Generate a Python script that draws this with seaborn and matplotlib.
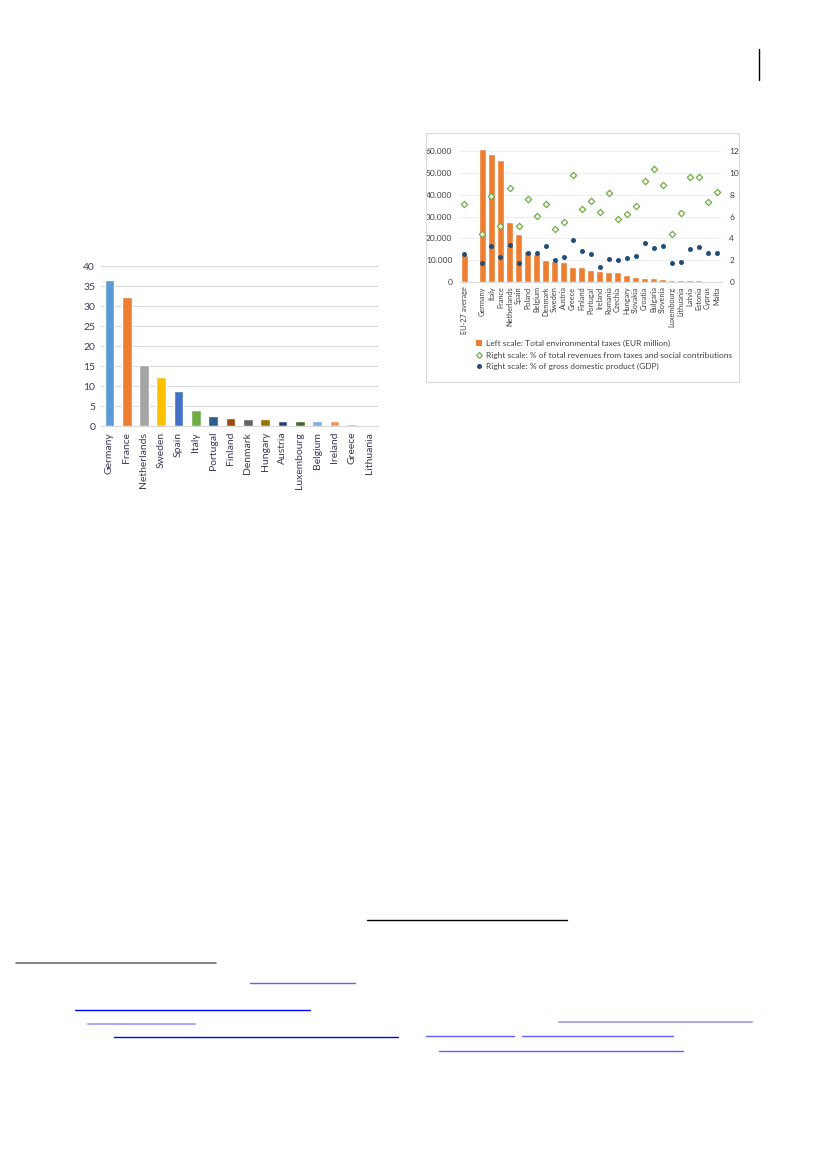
import numpy as np
import pandas as pd
import seaborn as sns
import matplotlib.pyplot as plt
from matplotlib.patches import Rectangle, Patch
from matplotlib.lines import Line2D

# left chart data
left_countries = ['Germany', 'France', 'Netherlands', 'Sweden', 'Spain', 'Italy', 'Portugal',
                  'Finland', 'Denmark', 'Hungary', 'Austria', 'Luxembourg', 'Belgium',
                  'Ireland', 'Greece', 'Lithuania']
left_values = [36.4, 32.2, 15.2, 12.3, 8.8, 4.0, 2.5, 2.0, 1.8, 1.8, 1.3, 1.25, 1.3, 1.2, 0.6, 0.15]
left_colors = ['#5B9BD5', '#ED7D31', '#A5A5A5', '#FFC000', '#4472C4', '#70AD47', '#255E91',
               '#9E480E', '#636363', '#997300', '#264478', '#43682B', '#7CAFDD', '#F1975A',
               '#B7B7B7', '#FFCD33']

# right chart data
right_order = ['EU-27 average', ' ', 'Germany', 'Italy', 'France', 'Netherlands', 'Spain', 'Poland',
               'Belgium', 'Denmark', 'Sweden', 'Austria', 'Greece', 'Finland', 'Portugal',
               'Ireland', 'Romania', 'Czechia', 'Hungary', 'Slovakia', 'Croatia', 'Bulgaria',
               'Slovenia', 'Luxembourg', 'Lithuania', 'Latvia', 'Estonia', 'Cyprus', 'Malta']
right_countries = [c for c in right_order if c.strip()]
env_taxes = [12500, 61000, 58500, 56000, 27600, 22200, 14100, 12900, 10200, 9900, 9100, 7100,
             6800, 5500, 5200, 4700, 4600, 3300, 2400, 2000, 2000, 1700, 1100, 1000, 900, 900,
             600, 400]
pct_revenues = [7.17, 4.44, 7.83, 5.13, 8.64, 5.16, 7.56, 6.09, 7.17, 4.83, 5.46, 9.81, 6.69,
                7.38, 6.42, 8.16, 5.76, 6.27, 6.99, 9.24, 10.32, 8.91, 4.44, 6.33, 9.63, 9.63,
                7.35, 8.28]
pct_gdp = [2.61, 1.77, 3.33, 2.34, 3.42, 1.80, 2.67, 2.67, 3.30, 2.07, 2.31, 3.90, 2.82, 2.58,
           1.44, 2.16, 2.07, 2.25, 2.43, 3.57, 3.15, 3.33, 1.74, 1.89, 3.03, 3.21, 2.64, 2.64]

sns.set_style('white')
plt.rcParams['font.family'] = ['Lato', 'DejaVu Sans']

W, H = 827, 1169
fig = plt.figure(figsize=(W / 100, H / 100), dpi=100)

def box(x0, y0, x1, y1):
    # pixel box (top-left origin) -> figure fraction
    return [x0 / W, 1 - y1 / H, (x1 - x0) / W, (y1 - y0) / H]

# ---- left bar chart ----
dl = pd.DataFrame({'country': left_countries, 'value': left_values})
ax = fig.add_axes(box(100.7, 266, 377.7, 426.3))
sns.barplot(data=dl, x='country', y='value', hue='country', palette=left_colors,
            order=left_countries, hue_order=left_countries, width=0.56, saturation=1,
            legend=False, ax=ax)
ax.set_ylim(0, 40)
ax.set_xlim(-0.5, len(left_countries) - 0.5)
ax.set_yticks(range(0, 41, 5))
ax.grid(axis='y', color='#D9D9D9', linewidth=0.8)
ax.set_axisbelow(True)
for s in ['top', 'right', 'left']:
    ax.spines[s].set_visible(False)
ax.spines['bottom'].set_color('#D9D9D9')
ax.tick_params(axis='both', length=0, labelsize=7.5, colors='#3A3A5A', pad=4)
ax.tick_params(axis='x', rotation=90)
ax.set_xlabel('')
ax.set_ylabel('')

# ---- right combined chart ----
fig.add_artist(Rectangle((425.7 / W, 1 - 381.7 / H), (739 - 425.7) / W, (381.7 - 133) / H,
                         transform=fig.transFigure, fill=False, edgecolor='#D9D9D9', linewidth=0.8))

dr = pd.DataFrame({'country': right_countries, 'taxes': env_taxes,
                   'revenues': pct_revenues, 'gdp': pct_gdp})
axr = fig.add_axes(box(460, 282.3 - 134.2, 721, 282.3))
sns.barplot(data=dr, x='country', y='taxes', order=right_order, color='#ED7D31',
            width=0.74, saturation=1, ax=axr)
axr.set_ylim(0, 61200)
axr.set_yticks(range(0, 60001, 10000))
axr.set_yticklabels([f'{v:,}'.replace(',', '.') for v in range(0, 60001, 10000)])
axr.grid(axis='y', color='#EDEDED', linewidth=0.7)
axr.set_axisbelow(True)

ax2 = axr.twinx()
sns.stripplot(data=dr, x='country', y='revenues', order=right_order, jitter=False,
              marker='D', size=3.2, color='white', edgecolor='#70AD47', linewidth=0.9, ax=ax2)
sns.stripplot(data=dr, x='country', y='gdp', order=right_order, jitter=False,
              marker='o', size=3.6, color='#1F4E79', linewidth=0, ax=ax2)
ax2.set_ylim(0, 12.24)
ax2.set_yticks(range(0, 13, 2))
ax2.set_xlim(-0.5, len(right_order) - 0.5)
axr.set_xlim(-0.5, len(right_order) - 0.5)

for a in (axr, ax2):
    for s in ['top', 'right', 'left', 'bottom']:
        a.spines[s].set_visible(False)
    a.set_xlabel('')
    a.set_ylabel('')
    a.tick_params(axis='both', length=0, labelsize=6.0, colors='#404040')
axr.spines['bottom'].set_visible(True)
axr.spines['bottom'].set_color('#D9D9D9')
axr.tick_params(axis='x', rotation=90, labelsize=5.3, pad=3)
axr.tick_params(axis='y', pad=5.5)
ax2.tick_params(axis='y', pad=6)

handles = [Patch(facecolor='#ED7D31', edgecolor='none'),
           Line2D([], [], marker='D', linestyle='none', markersize=3, markerfacecolor='white',
                  markeredgecolor='#70AD47', markeredgewidth=0.9),
           Line2D([], [], marker='o', linestyle='none', markersize=3.6, markerfacecolor='#1F4E79',
                  markeredgewidth=0)]
labels = ['Left scale: Total environmental taxes (EUR million)',
          'Right scale: % of total revenues from taxes and social contributions',
          'Right scale: % of gross domestic product (GDP)']
fig.legend(handles, labels, loc='upper left', bbox_to_anchor=(472 / W, 1 - 336 / H),
           frameon=False, fontsize=6.0, handlelength=0.75, handleheight=0.75,
           handletextpad=0.45, labelspacing=0.5, borderpad=0, labelcolor='#404040')

# ---- page decorations ----
def hline(x0, x1, y, color, lw=1.0):
    fig.add_artist(Line2D([x0 / W, x1 / W], [1 - y / H, 1 - y / H], color=color,
                          linewidth=lw, transform=fig.transFigure))

fig.add_artist(Line2D([759 / W, 759 / W], [1 - 49 / H, 1 - 80 / H], color='black',
                      linewidth=1.0, transform=fig.transFigure))
hline(367, 567, 920.3, 'black')
hline(16, 216, 962.7, '#6E6E6E', 1.2)
hline(249.7, 354.7, 982.7, '#6060FF')
hline(75, 309.7, 1010, '#0000FF')
hline(88, 194.7, 1024, '#A8A8FF', 1.4)
hline(114.3, 397.7, 1037.3, '#0000FF')
hline(559.3, 752, 1022, '#A8A8FF', 1.4)
hline(426, 514.3, 1036.3, '#6060FF')
hline(522.3, 673, 1036.3, '#6060FF')
hline(439, 683.3, 1051, '#6060FF')

fig.savefig('out.png', dpi=100)
